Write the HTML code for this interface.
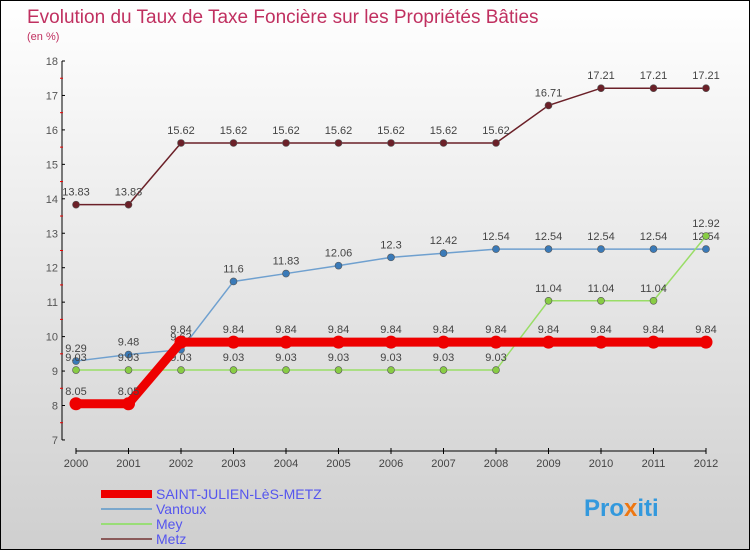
<!DOCTYPE html>
<html><head><meta charset="utf-8"><style>
body{margin:0}
#c{width:748px;height:548px;border:1px solid #000;background:linear-gradient(#ffffff,#cfcfcf);position:relative;font-family:"Liberation Sans",sans-serif;overflow:hidden}
</style></head><body>
<div id="c">
<svg id="s" width="748" height="548">
<text x="26" y="22" font-size="19" fill="#c03060">Evolution du Taux de Taxe Foncière sur les Propriétés Bâties</text>
<text x="26" y="39" font-size="11" fill="#c03060">(en %)</text>
<g id="g"></g>
<g>
<rect x="100" y="489" width="51" height="8" fill="#ee0000"/>
<text x="155" y="498" font-size="14" fill="#5555ee">SAINT-JULIEN-LèS-METZ</text>
<rect x="100" y="507" width="51" height="2" fill="#7aa7cc"/>
<text x="155" y="513" font-size="14" fill="#5555ee">Vantoux</text>
<rect x="100" y="522" width="51" height="2" fill="#99dd77"/>
<text x="155" y="528" font-size="14" fill="#5555ee">Mey</text>
<rect x="100" y="537" width="51" height="2" fill="#8a5a5a"/>
<text x="155" y="543" font-size="14" fill="#5555ee">Metz</text>
</g>
<text x="583" y="515" font-size="24" font-weight="bold" fill="#3399dd">Pro<tspan fill="#ee7711">x</tspan>iti</text>
</svg></div>
<script>
const years=[2000,2001,2002,2003,2004,2005,2006,2007,2008,2009,2010,2011,2012];
const sj=[8.05,8.05,9.84,9.84,9.84,9.84,9.84,9.84,9.84,9.84,9.84,9.84,9.84];
const vantoux=[9.29,9.48,9.62,11.6,11.83,12.06,12.3,12.42,12.54,12.54,12.54,12.54,12.54];
const mey=[9.03,9.03,9.03,9.03,9.03,9.03,9.03,9.03,9.03,11.04,11.04,11.04,12.92];
const metz=[13.83,13.83,15.62,15.62,15.62,15.62,15.62,15.62,15.62,16.71,17.21,17.21,17.21];
const yTicks=[7,8,9,10,11,12,13,14,15,16,17,18];
const NS="http://www.w3.org/2000/svg";
const g=document.getElementById('g');
const x=i=>75+i*52.5;
const y=v=>60+(18-v)*34.45;
function el(t,a){const e=document.createElementNS(NS,t);for(const k in a)e.setAttribute(k,a[k]);g.appendChild(e);return e;}
let e=el('line',{x1:61,y1:60,x2:61,y2:439,stroke:'#000'});


e=el('line',{x1:75,y1:450,x2:705,y2:450,stroke:'#000'});


yTicks.forEach(v=>{
 el('line',{x1:61,y1:y(v),x2:64,y2:y(v),stroke:'#000'});
 if(v<18) el('line',{x1:59,y1:y(v+0.5),x2:62,y2:y(v+0.5),stroke:'#e00'});
 const t=el('text',{x:57,y:y(v)+4,'font-size':11,fill:'#555','text-anchor':'end'});t.textContent=v;
 
 
});
years.forEach((yr,i)=>{
 el('line',{x1:x(i),y1:447,x2:x(i),y2:453,stroke:'#000'});
 const t=el('text',{x:x(i),y:466,'font-size':11,fill:'#444','text-anchor':'middle'});t.textContent=yr;
 
 
});
function series(d,name,col,pt,w,r){
 const p=el('polyline',{points:d.map((v,i)=>x(i)+','+y(v)).join(' '),fill:'none',stroke:col,'stroke-width':w});
 
 
 d.forEach((v,i)=>{
  const c=el('circle',{cx:x(i),cy:y(v),r:r,fill:pt,stroke:'#555','stroke-width':r>4?0:0.6});
  
  
  const t=el('text',{x:x(i),y:y(v)-9,'font-size':11,fill:'#444','text-anchor':'middle'});t.textContent=v;
  
  
 });
}
series(metz,'metz','#6b2028','#6b2028',1.5,3.5);
series(vantoux,'vantoux','#6fa0cf','#3a7ab8',1.5,3.5);
series(mey,'mey','#99dd66','#88cc44',1.5,3.5);
series(sj,'saint-julien','#ee0000','#ee0000',9,6.5);
</script>
</body></html>
